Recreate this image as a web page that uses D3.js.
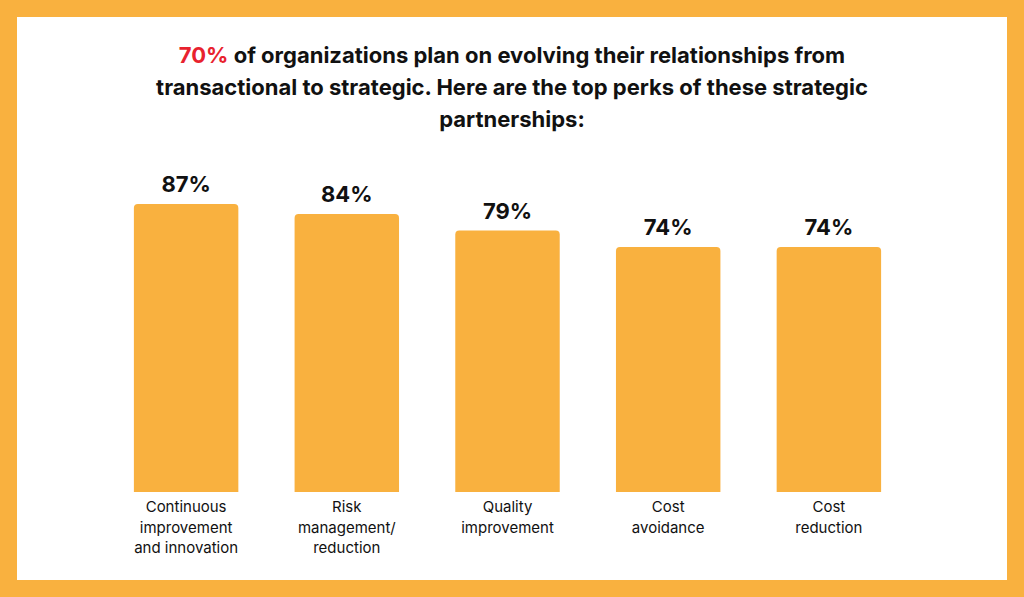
<!DOCTYPE html>
<html>
<head>
<meta charset="utf-8">
<script src="https://cdn.jsdelivr.net/npm/d3@7"></script>
<style>
body { margin: 0; background: #F9B13F; }
</style>
</head>
<body>
<div id="chart"></div>
<script>
const categories = [
    ['Continuous', 'improvement', 'and innovation'],
    ['Risk', 'management/', 'reduction'],
    ['Quality', 'improvement'],
    ['Cost', 'avoidance'],
    ['Cost', 'reduction']
];
const values = [87, 84, 79, 74, 74];
const titleLines = [
    [['70%', '#E8222E'], [' of organizations plan on evolving their relationships from', '#111']],
    [['transactional to strategic. Here are the top perks of these strategic', '#111']],
    [['partnerships:', '#111']]
];

const width = 1024, height = 597;
const orange = '#F9B13F';

const svg = d3.select('#chart').append('svg')
    .attr('width', width)
    .attr('height', height);

svg.append('rect').attr('width', width).attr('height', height).attr('fill', orange);
svg.append('rect')
    .attr('x', 17).attr('y', 17)
    .attr('width', 990).attr('height', 563)
    .attr('fill', '#fff');

// title
titleLines.forEach((line, i) => {
    const t = svg.append('text')
        .attr('x', width / 2)
        .attr('y', 63 + i * 32)
        .attr('text-anchor', 'middle')
        .attr('font-family', 'Inter, sans-serif')
        .attr('font-weight', 700)
        .attr('font-size', 22);
    line.forEach(([txt, col]) => t.append('tspan').attr('fill', col).text(txt));
});

// scales
const x_scale = d3.scaleBand()
    .domain(d3.range(values.length))
    .range([113, 902])
    .paddingInner(0.35)
    .paddingOuter(0.13);

const y_scale = d3.scaleLinear()
    .domain([0, 100])
    .range([492, 161]);

svg.selectAll('path.bar')
    .data(values)
    .join('path')
    .attr('class', 'bar')
    .attr('fill', orange)
    .attr('d', (d, i) => {
        const x0 = x_scale(i), w = x_scale.bandwidth(), y0 = y_scale(d), y1 = y_scale(0), r = 4;
        return `M${x0},${y1}V${y0 + r}Q${x0},${y0} ${x0 + r},${y0}H${x0 + w - r}Q${x0 + w},${y0} ${x0 + w},${y0 + r}V${y1}Z`;
    });

svg.selectAll('text.val')
    .data(values)
    .join('text')
    .attr('class', 'val')
    .attr('x', (d, i) => x_scale(i) + x_scale.bandwidth() / 2)
    .attr('y', d => y_scale(d) - 12)
    .attr('text-anchor', 'middle')
    .attr('font-family', 'Inter, sans-serif')
    .attr('font-weight', 700)
    .attr('font-size', 22)
    .attr('fill', '#111')
    .text(d => d + '%');

categories.forEach((lines, i) => {
    const t = svg.append('text')
        .attr('text-anchor', 'middle')
        .attr('font-family', 'Inter, sans-serif')
        .attr('font-size', 15)
        .attr('fill', '#111');
    lines.forEach((l, j) => t.append('tspan')
        .attr('x', x_scale(i) + x_scale.bandwidth() / 2)
        .attr('y', 512 + j * 20.5)
        .text(l));
});
</script>
</body>
</html>
